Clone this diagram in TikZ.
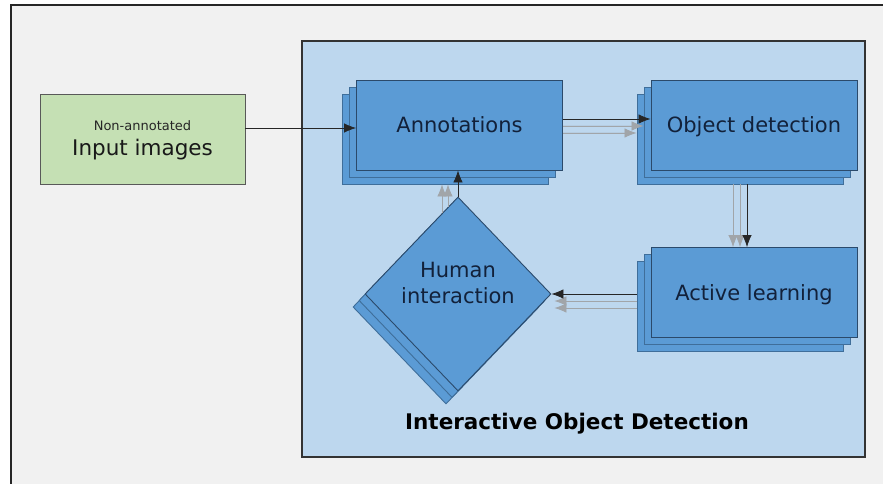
\documentclass[tikz,border=0pt]{standalone}
\usepackage{fontspec}
\setmainfont{DejaVu Sans}
\usetikzlibrary{shapes.geometric,arrows.meta}
\definecolor{pagebg}{HTML}{F1F1F1}
\definecolor{panelbg}{HTML}{BDD7EE}
\definecolor{boxblue}{HTML}{5B9BD5}
\definecolor{boxedge}{HTML}{2B4A6B}
\definecolor{backedge}{HTML}{3F6E9A}
\definecolor{inputgreen}{HTML}{C5E0B4}
\definecolor{labelnavy}{HTML}{12213A}
\definecolor{ghost}{HTML}{8A8F94}

\begin{document}
\begin{tikzpicture}[x=1pt,y=-1pt,
  stepbox/.style={draw=boxedge, fill=boxblue, line width=0.9pt,
    minimum width=206pt, minimum height=90pt, inner sep=0pt,
    text height=15.5pt, text depth=0pt,
    font=\fontsize{21}{25}\selectfont, text=labelnavy},
  backbox/.style={stepbox, draw=backedge},
  decision/.style={diamond, draw=boxedge, fill=boxblue, line width=0.9pt,
    minimum width=186pt, minimum height=194pt, inner sep=0pt},
  backdecision/.style={decision, draw=backedge},
  tip/.style={-{Latex[length=12pt,width=9.5pt]}},
  flow/.style={tip, draw=black!85, line width=0.75pt},
  ghostflow/.style={tip, draw=ghost!80, fill=ghost, line width=0.75pt},
]
\useasboundingbox (0,0) rectangle (883,484);
\fill[white] (0,0) rectangle (883,484);
% outer frame
\draw[fill=pagebg, line width=2pt, draw=black!85] (11,5) rectangle (900,500);

% panel of the interactive loop
\node[draw=black!80, fill=panelbg, line width=1.3pt, minimum width=563pt,
      minimum height=416pt, inner sep=0pt] (panel) at (583.5,249) {};
\node[font=\bfseries\fontsize{21.5}{26}\selectfont] (title) at (577,424)
      {Interactive Object Detection};

% input images
\node[draw=black!65, fill=inputgreen, line width=0.9pt, minimum width=205pt,
      minimum height=90pt, inner sep=0pt] (input) at (142.5,139) {};
\node[anchor=base, font=\fontsize{13}{15}\selectfont, text=black!85] (inputsub)
      at (142.5,131) {Non-annotated};
\node[anchor=base, font=\fontsize{21.5}{25}\selectfont, text=black!90] (inputmain)
      at (142.5,155) {Input images};

% stacked process boxes
\node[backbox] (ann3) at (445.5,139) {};
\node[backbox] (ann2) at (452.5,132) {};
\node[stepbox] (ann)  at (459.5,125) {Annotations};

\node[backbox] (det3) at (740,139) {};
\node[backbox] (det2) at (747,132) {};
\node[stepbox] (det)  at (754,125) {Object detection};

\node[backbox] (act3) at (740,306.5) {};
\node[backbox] (act2) at (747,299.5) {};
\node[stepbox] (act)  at (754,292.5) {Active learning};

% stacked decision
\node[backdecision] (hum3) at (446,307) {};
\node[backdecision] (hum2) at (452,300.5) {};
\node[decision] (hum) at (458,294) {};
\node[align=center, font=\fontsize{21}{26}\selectfont, text=labelnavy] (humtext)
      at (458,282.5) {Human\\interaction};

% input to annotations
\draw[flow] ([yshift=-3pt]ann.west -| input.east) -- ([yshift=-3pt]ann.west);

% annotations to object detection
\draw[ghostflow] ([yshift=-8pt]ann.east) -- ([yshift=-8pt]ann.east -| det3.west);
\draw[ghostflow] ([yshift=-1pt]ann.east) -- ([yshift=-1pt]ann.east -| det2.west);
\draw[flow] ([yshift=6pt]ann.east) -- ([yshift=6pt]det.west);

% object detection to active learning
\draw[ghostflow] ([xshift=-21pt]det.center |- det3.south) -- ([xshift=-21pt]act.north);
\draw[ghostflow] ([xshift=-14pt]det.center |- det3.south) -- ([xshift=-14pt]act.north);
\draw[flow] ([xshift=-7pt]det.center |- det3.south) -- ([xshift=-7pt]act.north);

% active learning to human interaction
\draw[ghostflow] ([yshift=-15.5pt]act.west -| act3.west) -- ([shift={(3pt,-14pt)}]hum.east);
\draw[ghostflow] ([yshift=-8.5pt]act.west -| act3.west) -- ([shift={(3pt,-7pt)}]hum.east);
\draw[flow] ([yshift=-1.5pt]act.west -| act3.west) -- (hum.east);

% human interaction back to annotations
\draw[ghostflow] ([shift={(-16pt,-16pt)}]hum.north) -- ([xshift=-16pt]hum.north |- ann3.south);
\draw[ghostflow] ([shift={(-10pt,-10pt)}]hum.north) -- ([xshift=-10pt]hum.north |- ann3.south);
\draw[flow] (hum.north) -- (hum.north |- ann.south);
\end{tikzpicture}
\end{document}
